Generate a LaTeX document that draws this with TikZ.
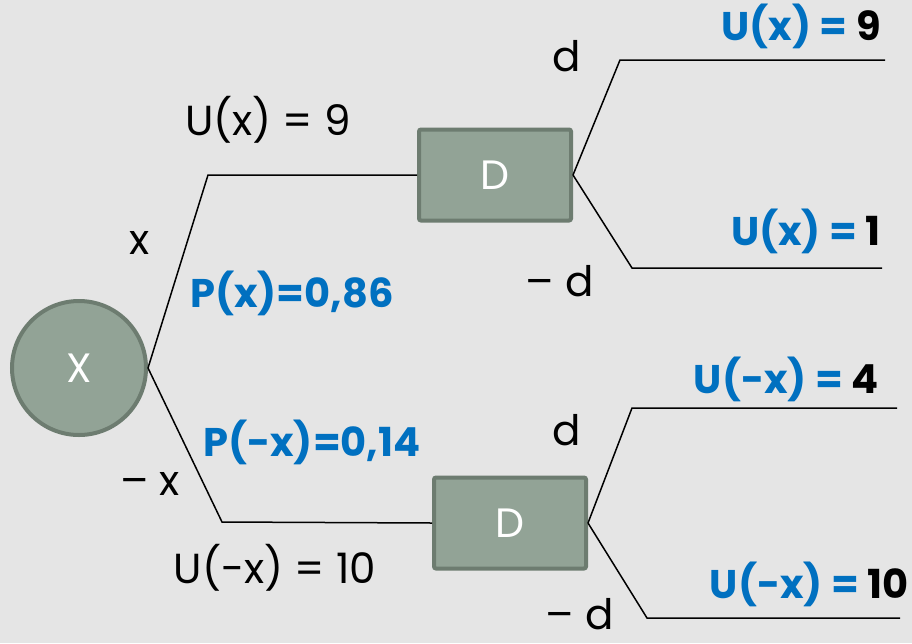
\documentclass[tikz,border=0pt]{standalone}
\usepackage{fontspec}
\setmainfont{Poppins}
\definecolor{bg}{HTML}{E5E5E5}
\definecolor{nodefill}{HTML}{92A396}
\definecolor{nodedraw}{HTML}{6D7C70}
\definecolor{pblue}{HTML}{0070C0}
\begin{document}
\begin{tikzpicture}[x=1pt,y=-1pt,
  chance/.style={circle,draw=nodedraw,fill=nodefill,line width=4pt,minimum size=134pt,inner sep=0pt,text=white,font=\fontsize{41}{48}\selectfont},
  decision/.style={rectangle,rounded corners=2pt,draw=nodedraw,fill=nodefill,line width=4pt,minimum width=152pt,minimum height=91pt,inner sep=0pt,text=white,font=\fontsize{41}{48}\selectfont},
  branch/.style={line width=1.5pt,black},
  lbl/.style={inner sep=0pt,font=\fontsize{42}{48}\selectfont},
  prob/.style={inner sep=0pt,text=pblue,font=\bfseries\fontsize{40}{46}\selectfont},
  util/.style={inner sep=0pt,anchor=east,text=pblue,font=\bfseries\fontsize{40}{46}\selectfont}]
\fill[bg] (0,0) rectangle (912,643);
\useasboundingbox (0,0) rectangle (912,643);
\node[chance] (X) at (79,368) {X};
\node[decision] (D1) at (495,175) {D};
\node[decision] (D2) at (510,523) {D};
\coordinate (a1) at (208,175);
\coordinate (a2) at (222,522);
\coordinate (b1) at (620,60);
\coordinate (b1e) at (885,60);
\coordinate (b2) at (632,268);
\coordinate (b2e) at (882,268);
\coordinate (b3) at (632,408);
\coordinate (b3e) at (897,408);
\coordinate (b4) at (647,618);
\coordinate (b4e) at (900,618);
\draw[branch] (X.east) -- (a1) -- (D1.west);
\draw[branch] (X.east) -- (a2) -- (D2.west);
\draw[branch] (D1.east) -- (b1) -- (b1e);
\draw[branch] (D1.east) -- (b2) -- (b2e);
\draw[branch] (D2.east) -- (b3) -- (b3e);
\draw[branch] (D2.east) -- (b4) -- (b4e);
\node[lbl] (l1) at (268,120) {U(x) = 9};
\node[lbl] (l2) at (140,243) {x};
\node[lbl] (l3) at (150,484) {– x};
\node[lbl] (l4) at (275,568) {U(-x) = 10};
\node[lbl] (l5) at (567,56) {d};
\node[lbl] (l6) at (560,281) {– d};
\node[lbl] (l7) at (567,430) {d};
\node[lbl] (l8) at (580,614) {– d};
\node[prob,anchor=west] (p1) at (190,293) {P(x)=0,86};
\node[prob,anchor=west] (p2) at (203,442) {P(-x)=0,14};
\node[util] (u1) at (881,26) {U(x) = \textcolor{black}{9}};
\node[util] (u2) at (881,231) {U(x) = \textcolor{black}{1}};
\node[util] (u3) at (879,379) {U(-x) = \textcolor{black}{4}};
\node[util] (u4) at (909,584) {U(-x) = \textcolor{black}{10}};
\end{tikzpicture}
\end{document}
